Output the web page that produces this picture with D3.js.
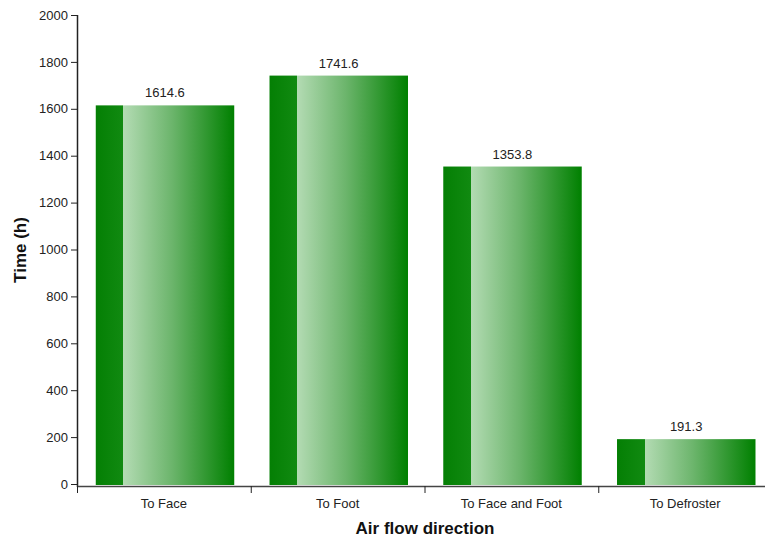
<!DOCTYPE html>
<html><head><meta charset="utf-8">
<script src="https://cdn.jsdelivr.net/npm/d3@7"></script>
<style>body{margin:0;background:#fff}svg{display:block;font-family:"Liberation Sans",Arial,sans-serif}</style>
</head><body>
<svg id="c" width="765" height="542"></svg>
<script>
const categories = ["To Face", "To Foot", "To Face and Foot", "To Defroster"];
const values = [1614.6, 1741.6, 1353.8, 191.3];
const yTicks = [0, 200, 400, 600, 800, 1000, 1200, 1400, 1600, 1800, 2000];

const svg = d3.select("#c");
const x0 = 77, x1 = 772, yTop = 15, yBot = 484;
const x = d3.scaleBand().domain(categories).range([x0, x1]).paddingInner(0).paddingOuter(0);
const y = d3.scaleLinear().domain([0, 2000]).range([yBot, yTop]);

const defs = svg.append("defs");
const g = defs.append("linearGradient").attr("id", "bg").attr("x1", "0%").attr("x2", "100%").attr("y1", "0").attr("y2", "0");
[[0, "#047f04"], [0.2, "#118a11"], [0.2, "#b3dbb3"], [0.55, "#6cb56c"], [1, "#008000"]].forEach(s =>
  g.append("stop").attr("offset", s[0]).attr("stop-color", s[1]));

const bw = x.bandwidth();
const bars = svg.append("g");
bars.selectAll("rect").data(values).join("rect")
  .attr("x", (d, i) => x(categories[i]) + bw * 0.108)
  .attr("width", bw * 0.797)
  .attr("y", d => y(d))
  .attr("height", d => y(0) - y(d) + 1)
  .attr("fill", "url(#bg)");

svg.append("g").selectAll("text").data(values).join("text")
  .attr("x", (d, i) => x(categories[i]) + bw * 0.506)
  .attr("y", d => y(d) - 8)
  .attr("text-anchor", "middle")
  .attr("font-size", 13).attr("fill", "#222")
  .text(d => d.toFixed(1));

// y axis
const ya = svg.append("g").attr("transform", `translate(${x0},0)`)
  .call(d3.axisLeft(y).tickValues(yTicks).tickFormat(d3.format("d")).tickSizeOuter(0).tickSize(6));
ya.select(".domain").attr("stroke", "#222").attr("stroke-width", 1.5).attr("d", `M0.5,${yTop}V${yBot + 3}`);
ya.selectAll(".tick line").attr("stroke", "#222");
ya.selectAll(".tick text").attr("font-size", 13).attr("fill", "#222").attr("font-family", "Liberation Sans, Arial, sans-serif");

// x axis
const xa = svg.append("g").attr("transform", `translate(0,${yBot + 2})`);
xa.append("path").attr("d", `M${x0},0.5H${x1}`).attr("stroke", "#444").attr("stroke-width", 1.5);
xa.selectAll("line").data(categories).join("line")
  .attr("x1", d => x(d) + 0.5).attr("x2", d => x(d) + 0.5)
  .attr("y1", 0).attr("y2", 7).attr("stroke", "#222");
xa.selectAll("text").data(categories).join("text")
  .attr("x", d => x(d) + bw / 2).attr("y", 22)
  .attr("text-anchor", "middle").attr("font-size", 13).attr("fill", "#222")
  .text(d => d);

svg.append("text").attr("x", 425).attr("y", 534).attr("text-anchor", "middle")
  .attr("font-size", 17).attr("font-weight", "bold").attr("fill", "#111").text("Air flow direction");
svg.append("text").attr("transform", "translate(26,250) rotate(-90)").attr("text-anchor", "middle")
  .attr("font-size", 17).attr("font-weight", "bold").attr("fill", "#111").text("Time (h)");
</script>
</body></html>
